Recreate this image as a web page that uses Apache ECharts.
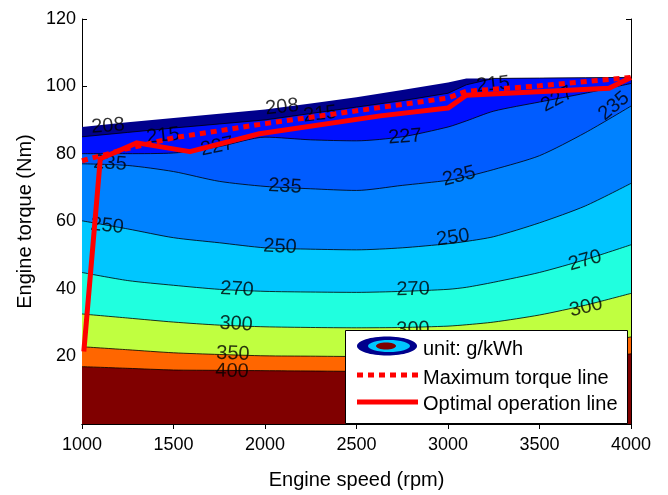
<!DOCTYPE html>
<html>
<head>
<meta charset="utf-8">
<script src="https://cdn.jsdelivr.net/npm/echarts@6/dist/echarts.min.js"></script>
<style>
html,body{margin:0;padding:0;background:#fff;}
#chart{width:668px;height:495px;}
</style>
</head>
<body>
<div id="chart"></div>
<script>
// ---- data ----
const speeds = [1000,1250,1500,1750,2000,2250,2500,2750,3000,3100,3250,3500,3750,4000];
const envelopeTop = [88.0,89.4,90.7,91.9,93.2,95.0,96.8,99.0,101.2,102.4,102.4,102.5,102.6,102.7];
const line215 = [85.1,86.4,87.7,88.9,90.1,92.0,93.9,95.8,98.0,100.5,102.4,102.5,102.6,102.7];
const line227 = [80.1,80.1,80.3,82.2,85.0,84.2,83.9,85.1,88.0,89.8,92.7,95.4,98.0,100.9];
const line235 = [77.1,76.6,74.8,71.9,70.4,69.7,69.2,70.7,72.2,73.3,75.4,79.5,86.3,94.2];
const line250 = [60.2,57.8,55.2,53.7,52.2,51.8,51.6,52.2,53.4,54.1,55.5,59.6,64.6,71.3];
const line270 = [44.9,42.5,41.1,39.9,39.3,39.1,39.0,39.3,39.9,40.5,42.0,44.9,48.7,53.1];
const line300 = [32.6,31.4,30.2,29.3,28.8,28.6,28.5,28.6,29.0,29.4,30.2,32.3,35.2,38.7];
const line350 = [22.9,22.0,21.1,20.6,20.2,20.1,20.0,20.0,20.2,20.4,21.0,22.0,23.5,25.8];
const line400 = [17.0,16.5,16.0,15.9,15.8,15.7,15.6,15.6,15.6,15.8,16.3,17.5,19.0,20.8];

const maxTorqueSpeed = [1000,1250,1500,2000,2500,3000,3100,3500,4000];
const maxTorque = [78.0,81.6,84.8,89.0,92.8,96.6,98.6,100.2,102.7];

const optimalSpeed = [1010,1100,1300,1590,1970,2630,3000,3100,3880,4000];
const optimalTorque = [21.5,78.6,83.3,80.7,86.0,91.3,93.6,97.4,99.5,102.7];

// contour labels: speed, torque, text, angle (deg, counter-clockwise)
const contourLabels = [
  [1142,88.3,'208',4],[1443,85.4,'215',6],[2093,93.9,'208',6],[2301,91.8,'215',6],[3246,100.6,'215',6],
  [1738,82.2,'227',12],[2765,85.1,'227',4],[3596,96.2,'227',28],
  [1153,77.2,'235',-4],[2109,70.4,'235',-3],[3060,73.4,'235',14],[3907,94.2,'235',40],
  [1137,58.7,'250',-6],[2082,52.5,'250',-3],[3027,55.2,'250',8],
  [1847,39.9,'270',-3],[2809,39.9,'270',1],[3749,48.4,'270',16],
  [1842,29.6,'300',-3],[2809,28.0,'300',2],[3754,34.6,'300',14],
  [1825,20.8,'350',-2],[1820,15.6,'400',-1]
];

const unitText = 'unit: g/kWh';
const legendNames = ['Maximum torque line','Optimal operation line'];
const xTicks = [1000,1500,2000,2500,3000,3500,4000];
const yTicks = [20,40,60,80,100,120];

// ---- build ----
const FONT = 'Liberation Sans';
const bands = [
  [envelopeTop,'#00008C',0],
  [line215,'#0010FF',0.8],
  [line227,'#005CFF',0.8],
  [line235,'#0082FF',0.8],
  [line250,'#00C6FF',0.8],
  [line270,'#20FFDF',0.8],
  [line300,'#C0FF40',0.8],
  [line350,'#FF6600',0.8],
  [line400,'#800000',0.8]
];
const series = bands.map((b,i)=>({
  type:'line', z:2,
  data: speeds.map((s,k)=>[s,b[0][k]]),
  symbol:'none', smooth: (i<2)?false:0.25,
  lineStyle:{color:'#000', width:b[2]},
  areaStyle:{color:b[1], opacity:1, origin:'start'},
  silent:true, animation:false
}));
series.push({
  type:'scatter', z:3, symbolSize:0, silent:true, animation:false,
  data: contourLabels.map(c=>({value:[c[0],c[1]], label:{formatter:c[2], rotate:c[3]}})),
  label:{show:true, position:'inside', color:'#000', fontSize:20, fontFamily:FONT}
});
series.push({
  type:'line', z:4, symbol:'none', animation:false, silent:true,
  data: maxTorqueSpeed.map((s,k)=>[s,maxTorque[k]]),
  lineStyle:{color:'#FF0000', width:5, type:[6,5], cap:'butt'}
});
series.push({
  type:'line', z:4, symbol:'none', animation:false, silent:true,
  data: optimalSpeed.map((s,k)=>[s,optimalTorque[k]]),
  lineStyle:{color:'#FF0000', width:5, join:'round'}
});

const axisLineStyle = {show:true, lineStyle:{color:'#000', width:1}};
const chart = echarts.init(document.getElementById('chart'), null, {renderer:'canvas'});
chart.setOption({
  backgroundColor:'#fff',
  animation:false,
  grid:{left:82, right:37, top:19, bottom:67, containLabel:false},
  xAxis:[{
    type:'value', min:xTicks[0], max:xTicks[xTicks.length-1], interval:500, position:'bottom',
    axisLine:axisLineStyle, axisTick:{inside:true, length:5, lineStyle:{color:'#000'}},
    axisLabel:{color:'#000', fontSize:18, fontFamily:FONT, margin:12, formatter:v=>String(v)},
    splitLine:{show:false},
    name:'Engine speed (rpm)', nameLocation:'middle', nameGap:46,
    nameTextStyle:{color:'#000', fontSize:20, fontFamily:FONT}
  },{
    type:'value', min:xTicks[0], max:xTicks[xTicks.length-1], interval:500, position:'top',
    axisLine:axisLineStyle, axisTick:{inside:true, length:5, lineStyle:{color:'#000'}},
    axisLabel:{show:false}, splitLine:{show:false}
  }],
  yAxis:[{
    type:'value', min:0, max:yTicks[yTicks.length-1], interval:20, position:'left',
    axisLine:axisLineStyle, axisTick:{inside:true, length:5, lineStyle:{color:'#000'}},
    axisLabel:{color:'#000', fontSize:18, fontFamily:FONT, margin:6,
      formatter:v=> yTicks.indexOf(v)>=0 ? String(v) : ''},
    splitLine:{show:false},
    name:'Engine torque (Nm)', nameLocation:'middle', nameGap:27, nameRotate:90,
    nameTextStyle:{color:'#000', fontSize:20, fontFamily:FONT}
  },{
    type:'value', min:0, max:yTicks[yTicks.length-1], interval:20, position:'right',
    axisLine:axisLineStyle, axisTick:{inside:true, length:5, lineStyle:{color:'#000'}},
    axisLabel:{show:false}, splitLine:{show:false}
  }],
  series: series
});

// legend box drawn as graphic elements on top
chart.setOption({
  graphic:{elements:[
    {type:'rect', z:100, shape:{x:345.5, y:330.5, width:282, height:93}, style:{fill:'#fff', stroke:'#000', lineWidth:1}},
    {type:'ellipse', z:101, shape:{cx:387, cy:346, rx:30, ry:9.5}, style:{fill:'#00008C'}},
    {type:'ellipse', z:102, shape:{cx:389, cy:346, rx:21, ry:6}, style:{fill:'#00C6FF'}},
    {type:'ellipse', z:103, shape:{cx:386, cy:346, rx:10, ry:3.5}, style:{fill:'#800000'}},
    {type:'line', z:101, shape:{x1:357, y1:375, x2:418, y2:375}, style:{stroke:'#FF0000', lineWidth:5, lineDash:[6,5]}},
    {type:'line', z:101, shape:{x1:357, y1:402, x2:418, y2:402}, style:{stroke:'#FF0000', lineWidth:5}},
    {type:'text', z:101, x:423, y:349, style:{text:unitText, fill:'#000', fontSize:20, fontFamily:FONT, verticalAlign:'middle'}},
    {type:'text', z:101, x:423, y:378, style:{text:legendNames[0], fill:'#000', fontSize:20, fontFamily:FONT, verticalAlign:'middle'}},
    {type:'text', z:101, x:423, y:404, style:{text:legendNames[1], fill:'#000', fontSize:20, fontFamily:FONT, verticalAlign:'middle'}}
  ]}
});
</script>
</body>
</html>
